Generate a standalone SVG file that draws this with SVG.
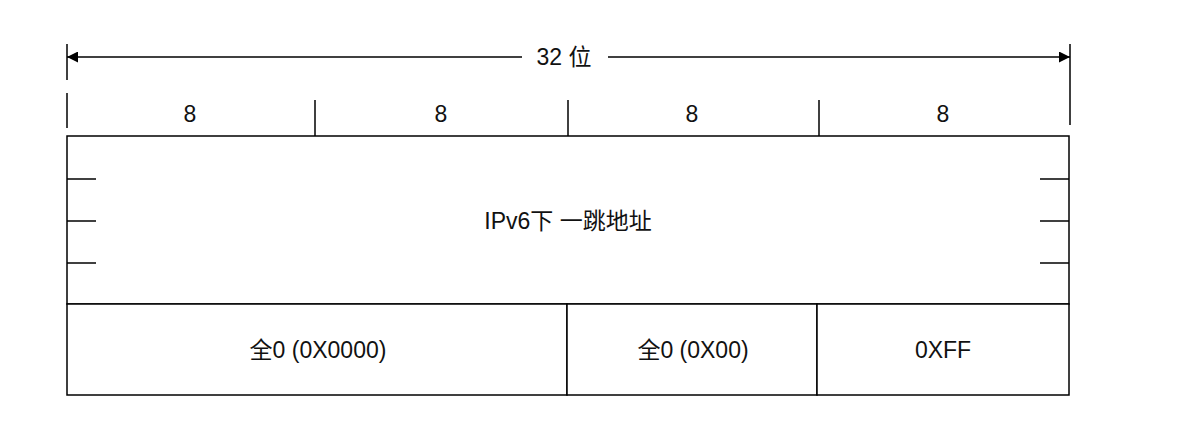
<svg xmlns="http://www.w3.org/2000/svg" width="1186" height="422" viewBox="0 0 1186 422">
<defs>
<style>
.ln{stroke:#000;stroke-width:1.5;fill:none}
.bx{stroke:#000;stroke-width:1.5;fill:#fff}
.t{font-family:"Liberation Sans","Noto Sans CJK SC",sans-serif;font-size:23px;fill:#111;text-anchor:middle;dominant-baseline:central}
</style>
<marker id="ah" viewBox="0 0 10 10" refX="10" refY="5" markerWidth="16" markerHeight="11" markerUnits="userSpaceOnUse" orient="auto-start-reverse">
<path d="M0,0 L10,5 L0,10 Z" fill="#000"/>
</marker>
</defs>
<rect width="1186" height="422" fill="#fff"/>
<g id="connectors">
<line class="ln" x1="67" y1="44" x2="67" y2="80"/>
<line class="ln" x1="1070" y1="44" x2="1070" y2="125"/>
<line class="ln" x1="67" y1="57" x2="522" y2="57" marker-start="url(#ah)"/>
<line class="ln" x1="608" y1="57" x2="1070" y2="57" marker-end="url(#ah)"/>
</g>
<g id="width-label"><text class="t" x="564" y="57">32  位</text></g>
<g id="header">
<line class="ln" x1="67" y1="93" x2="67" y2="128"/>
<line class="ln" x1="315" y1="100" x2="315" y2="136"/>
<line class="ln" x1="568" y1="100" x2="568" y2="136"/>
<line class="ln" x1="819" y1="100" x2="819" y2="136"/>
<text class="t" x="190" y="114">8</text>
<text class="t" x="441" y="114">8</text>
<text class="t" x="692" y="114">8</text>
<text class="t" x="943" y="114">8</text>
</g>
<g id="next-hop">
<rect class="bx" x="67" y="136" width="1002" height="168"/>
<line class="ln" x1="67" y1="179" x2="96" y2="179"/>
<line class="ln" x1="67" y1="221" x2="96" y2="221"/>
<line class="ln" x1="67" y1="263" x2="96" y2="263"/>
<line class="ln" x1="1040" y1="179" x2="1069" y2="179"/>
<line class="ln" x1="1040" y1="221" x2="1069" y2="221"/>
<line class="ln" x1="1040" y1="263" x2="1069" y2="263"/>
<text class="t" x="568" y="221">IPv6下 一跳地址</text>
</g>
<g id="zero16">
<rect class="bx" x="67" y="304" width="500" height="91"/>
<text class="t" x="318" y="350">全0 (0X0000)</text>
</g>
<g id="zero8">
<rect class="bx" x="567" y="304" width="250" height="91"/>
<text class="t" x="693" y="350">全0 (0X00)</text>
</g>
<g id="ff">
<rect class="bx" x="817" y="304" width="252" height="91"/>
<text class="t" x="943" y="350">0XFF</text>
</g>
</svg>
